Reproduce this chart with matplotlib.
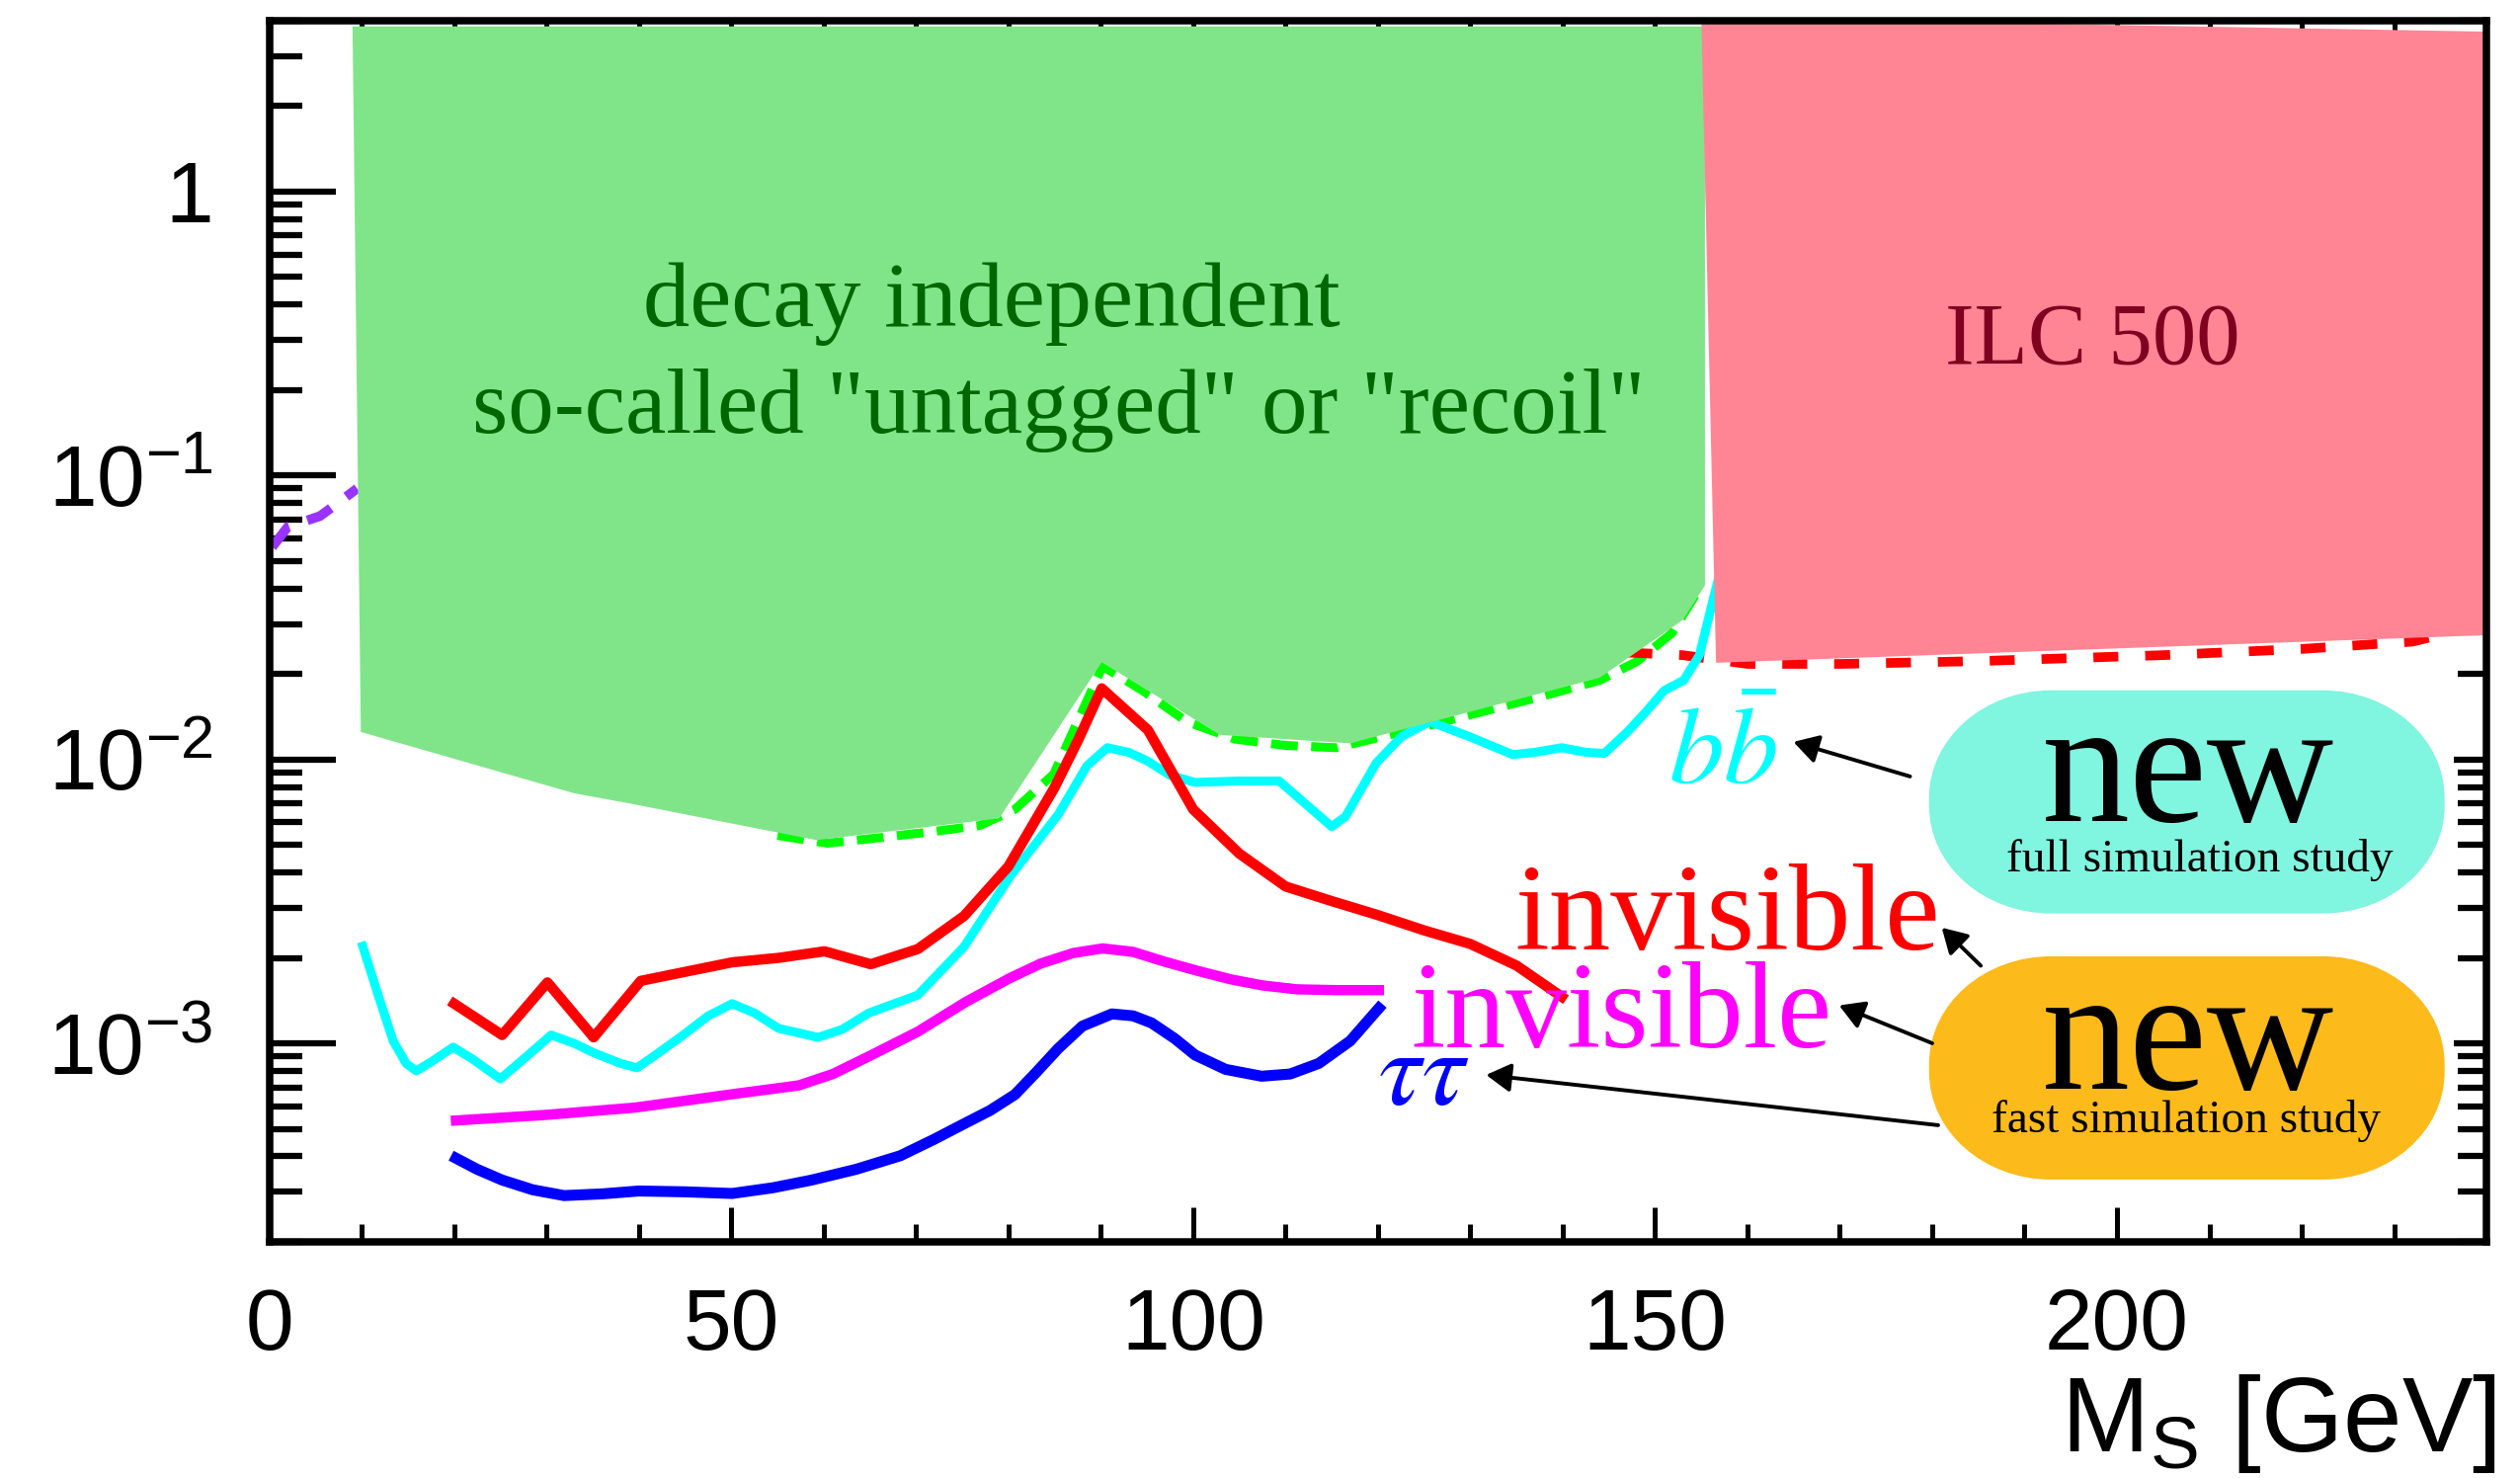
import numpy as np
import matplotlib.pyplot as plt
from matplotlib.path import Path
from matplotlib.patches import PathPatch, Polygon, FancyArrowPatch
from matplotlib.ticker import MultipleLocator, FixedLocator, FixedFormatter

plt.rcParams['font.family'] = ['Liberation Sans', 'DejaVu Sans']
plt.rcParams['mathtext.fontset'] = 'custom'
plt.rcParams['mathtext.rm'] = 'Liberation Sans'
plt.rcParams['mathtext.it'] = 'Liberation Sans:italic'
plt.rcParams['mathtext.bf'] = 'Liberation Sans:bold'

# ---- data ----
# b bbar (full simulation)
bb_x = [10.1, 11.8, 13.4, 14.8, 15.9, 17.5, 19.9, 22, 25, 27.5, 30.5, 33, 35, 38, 39.8,
        42, 44.8, 47.5, 50.1, 52.5, 55.1, 59.4, 62, 64.9, 70.2, 75.2, 80.2, 85.4, 88.5,
        90.7, 93, 95, 97.5, 100.2, 105, 109.3, 115, 116.5, 119.8, 122.5, 125.6, 130,
        134.6, 137, 139.9, 142.5, 144.5, 147, 149, 151, 153.1, 154.8, 156.5, 158]
bb_y = [2.2e-3, 1.47e-3, 1.02e-3, 8.5e-4, 8.0e-4, 8.6e-4, 9.7e-4, 8.8e-4, 7.5e-4, 8.8e-4,
        1.07e-3, 1.0e-3, 9.3e-4, 8.5e-4, 8.2e-4, 9.2e-4, 1.07e-3, 1.25e-3, 1.38e-3, 1.28e-3,
        1.13e-3, 1.05e-3, 1.12e-3, 1.28e-3, 1.48e-3, 2.19e-3, 3.88e-3, 6.4e-3, 9.5e-3,
        1.10e-2, 1.06e-2, 9.9e-3, 8.8e-3, 8.3e-3, 8.4e-3, 8.4e-3, 5.8e-3, 6.3e-3, 9.7e-3,
        1.2e-2, 1.36e-2, 1.2e-2, 1.04e-2, 1.06e-2, 1.10e-2, 1.06e-2, 1.05e-2, 1.25e-2,
        1.47e-2, 1.75e-2, 1.9e-2, 2.33e-2, 3.9e-2, 6e-2]

# invisible (full simulation, red)
inv_full_x = [20, 25.2, 30.1, 35.1, 40.2, 50.1, 55.1, 60.1, 65.1, 70.2, 75.2, 80, 85, 87.6,
              90.1, 95.1, 100, 105, 110, 115, 120, 125, 130, 135, 139.9]
inv_full_y = [1.38e-3, 1.07e-3, 1.64e-3, 1.05e-3, 1.66e-3, 1.93e-3, 2.0e-3, 2.11e-3, 1.9e-3,
              2.15e-3, 2.81e-3, 4.2e-3, 7.97e-3, 1.18e-2, 1.78e-2, 1.27e-2, 6.67e-3, 4.66e-3,
              3.57e-3, 3.17e-3, 2.83e-3, 2.5e-3, 2.24e-3, 1.88e-3, 1.46e-3]

# invisible (fast simulation, magenta)
inv_fast_x = [20.2, 30, 39.6, 50.1, 57.3, 61, 64.9, 70.2, 75.4, 80.2, 83.5, 87, 90.2, 93.5,
              96.9, 100.5, 104.1, 107.5, 111.2, 115.5, 120.1]
inv_fast_y = [5.35e-4, 5.6e-4, 5.94e-4, 6.62e-4, 7.11e-4, 7.8e-4, 9.0e-4, 1.1e-3, 1.40e-3,
              1.7e-3, 1.91e-3, 2.08e-3, 2.16e-3, 2.1e-3, 1.94e-3, 1.8e-3, 1.68e-3, 1.6e-3,
              1.55e-3, 1.54e-3, 1.54e-3]

# tau tau (fast simulation, blue)
tau_x = [20.2, 22.5, 25.2, 28.5, 31.9, 36, 40, 45, 50.1, 54.5, 58.7, 63.5, 68.3, 72, 75.4,
         78, 80.7, 83, 85.4, 88, 91.2, 93.5, 95.5, 98, 100.2, 103.5, 107.4, 110.5, 113.6,
         117, 120.1]
tau_y = [3.94e-4, 3.6e-4, 3.3e-4, 3.05e-4, 2.91e-4, 2.95e-4, 3.02e-4, 3.0e-4, 2.96e-4,
         3.1e-4, 3.3e-4, 3.6e-4, 4.02e-4, 4.6e-4, 5.25e-4, 5.8e-4, 6.6e-4, 7.9e-4, 9.6e-4,
         1.15e-3, 1.27e-3, 1.25e-3, 1.18e-3, 1.04e-3, 9.1e-4, 8.1e-4, 7.66e-4, 7.8e-4,
         8.5e-4, 1.02e-3, 1.33e-3]

# decay independent expected (green dashed)
recoil_x = [55, 60.4, 66, 71.4, 76.9, 80.7, 84.9, 90.2, 94.5, 99.3, 104.5, 110, 115.5,
            125.6, 137.5, 144, 148, 151.8, 155]
recoil_y = [5.4e-3, 5.07e-3, 5.3e-3, 5.55e-3, 5.85e-3, 6.67e-3, 8.88e-3, 2.13e-2, 1.75e-2,
            1.36e-2, 1.18e-2, 1.12e-2, 1.10e-2, 1.32e-2, 1.66e-2, 1.9e-2, 2.21e-2, 2.78e-2,
            4.1e-2]

# ILC 500 (red dashed)
ilc500_x = [147, 153, 160, 170, 185, 205, 220, 232, 237]
ilc500_y = [2.38e-2, 2.33e-2, 2.17e-2, 2.17e-2, 2.22e-2, 2.33e-2, 2.45e-2, 2.6e-2, 2.85e-2]

# LEP (purple dashed)
lep_x = [0.3, 2, 5.5, 9.5]
lep_y = [5.6e-2, 6.6e-2, 7.2e-2, 9.0e-2]

# shaded regions
green_x = [9.0, 9.9, 33, 39, 59.2, 79, 90.1, 102.9, 117, 144, 153, 155.4, 155.4]
green_y = [3.82, 1.25e-2, 7.6e-3, 7.0e-3, 5.2e-3, 6.2e-3, 2.2e-2, 1.22e-2, 1.14e-2,
           1.94e-2, 3.1e-2, 4.1e-2, 3.82]
pink_x = [155.0, 240, 240, 156.6]
pink_y = [4.1, 3.66, 2.74e-2, 2.19e-2]

ytick_vals = [1e-3, 1e-2, 1e-1, 1]
ytick_labels = [r'$10^{-3}$', r'$10^{-2}$', r'$10^{-1}$', '1']

# ---- figure ----
fig = plt.figure(figsize=(25.51, 14.96), dpi=100)
ax = fig.add_axes([0.1069, 0.1598, 0.8798, 0.8262])
ax.set_yscale('log')
ax.set_xlim(0, 240)
ax.set_ylim(2e-4, 4)

# right-hand ticks on a twin drawn underneath
ax2 = ax.twinx()
ax2.set_yscale('log')
ax2.set_ylim(2e-4, 4)
ax2.set_zorder(ax.get_zorder() - 1)
ax.patch.set_visible(False)
for s in ax2.spines.values():
    s.set_visible(False)
ax2.tick_params(axis='y', which='major', direction='in', length=24, width=4.5,
                labelright=False)
ax2.tick_params(axis='y', which='minor', direction='in', length=21, width=4.5,
                labelright=False)

ax.set_axisbelow(True)

ax.plot(lep_x, lep_y, color='#9933FF', lw=7, dashes=(2.8, 2.0), zorder=1)
ax.plot(recoil_x, recoil_y, color='#00FF00', lw=6.5, dashes=(3, 1.5), zorder=1)
ax.plot(ilc500_x, ilc500_y, color='#FF0000', lw=7, dashes=(2.6, 2.8), zorder=1)
ax.plot(bb_x, bb_y, color='#00FFFF', lw=6.5, zorder=1.5, solid_joinstyle='round')

ax.add_patch(Polygon(list(zip(green_x, green_y)), closed=True, facecolor='#80E589',
                     edgecolor='none', zorder=2))
ax.add_patch(Polygon(list(zip(pink_x, pink_y)), closed=True, facecolor='#FF8595',
                     edgecolor='none', zorder=2.5))

ax.plot(inv_full_x, inv_full_y, color='#FF0000', lw=7.5, zorder=3)
ax.plot(inv_fast_x, inv_fast_y, color='#FF00FF', lw=7.5, zorder=3, solid_joinstyle='round')
ax.plot(tau_x, tau_y, color='#0000FF', lw=8, zorder=3, solid_joinstyle='round')

# axes style (ROOT like)
for s in ax.spines.values():
    s.set_linewidth(5.4)
    s.set_zorder(5)
ax.xaxis.set_major_locator(MultipleLocator(50))
ax.xaxis.set_minor_locator(MultipleLocator(10))
ax.yaxis.set_major_locator(FixedLocator(ytick_vals))
ax.yaxis.set_major_formatter(FixedFormatter(ytick_labels))
ax.yaxis.set_minor_formatter(FixedFormatter([]))
ax.tick_params(axis='x', which='both', direction='in', top=True, bottom=True, width=3.6)
ax.tick_params(axis='x', which='major', length=25, pad=33, labelsize=63)
ax.tick_params(axis='x', which='minor', length=13)
ax.tick_params(axis='y', which='both', direction='in', width=4.5)
ax.tick_params(axis='y', which='major', length=48, pad=41, labelsize=63)
ax.tick_params(axis='y', which='minor', length=24)

fig.text(2527 / 2551, 1 - 1468.6 / 1496, r'M$_{\mathregular{S}}$ [GeV]', fontsize=77,
         ha='right', va='baseline')

# region labels
serif = 'Liberation Serif'
ax.text(78.2, 0.337, 'decay independent', family=serif, fontsize=68, color='#006600',
        ha='center', va='baseline', zorder=4)
ax.text(85.4, 0.142, 'so-called "untagged" or "recoil"', family=serif, fontsize=67,
        color='#006600', ha='center', va='baseline', zorder=4)
ax.text(197.4, 0.248, 'ILC 500', family=serif, fontsize=64, color='#800020',
        ha='center', va='baseline', zorder=4)

# curve labels
ax.text(134.8, 2.14e-3, 'invisible', family=serif, fontsize=90, color='#FF0000',
        ha='left', va='baseline', zorder=4)
ax.text(123.6, 9.7e-4, 'invisible', family=serif, fontsize=89, color='#FF00FF',
        ha='left', va='baseline', zorder=4)
ax.text(151.4, 8.2e-3, r'$b\bar{b}$', math_fontfamily='stix', fontsize=80, color='#00FFFF',
        ha='left', va='baseline', zorder=4)
ax.text(120, 6.08e-4, r'$\tau\tau$', math_fontfamily='stix', fontsize=78, color='#0000FF',
        ha='left', va='baseline', zorder=4)


def bubble(x0, y0, x1, y1, rx, ry, color):
    k = 0.5523
    verts = [(x0 + rx, y0), (x1 - rx, y0),
             (x1 - rx + k * rx, y0), (x1, y0 + ry - k * ry), (x1, y0 + ry),
             (x1, y1 - ry),
             (x1, y1 - ry + k * ry), (x1 - rx + k * rx, y1), (x1 - rx, y1),
             (x0 + rx, y1),
             (x0 + rx - k * rx, y1), (x0, y1 - ry + k * ry), (x0, y1 - ry),
             (x0, y0 + ry),
             (x0, y0 + ry - k * ry), (x0 + rx - k * rx, y0), (x0 + rx, y0),
             (x0 + rx, y0)]
    codes = ([Path.MOVETO, Path.LINETO] + [Path.CURVE4] * 3 + [Path.LINETO]
             + [Path.CURVE4] * 3 + [Path.LINETO] + [Path.CURVE4] * 3 + [Path.LINETO]
             + [Path.CURVE4] * 3 + [Path.CLOSEPOLY])
    ax.add_patch(PathPatch(Path(verts, codes), facecolor=color, edgecolor='none',
                           transform=ax.transAxes, zorder=4, clip_on=False))


bubble(0.7486, 0.2689, 0.9811, 0.4516, 0.055, 0.088, '#80F5DF')
bubble(0.7486, 0.0510, 0.9811, 0.2338, 0.055, 0.088, '#FDBA1B')

ax.text(0.8652, 0.3448, 'new', family=serif, fontsize=128, ha='center', va='baseline',
        transform=ax.transAxes, zorder=5)
ax.text(0.8708, 0.3034, 'full simulation study', family=serif, fontsize=34, ha='center',
        va='baseline', transform=ax.transAxes, zorder=5)
ax.text(0.8652, 0.1255, 'new', family=serif, fontsize=128, ha='center', va='baseline',
        transform=ax.transAxes, zorder=5)
ax.text(0.8644, 0.0894, 'fast simulation study', family=serif, fontsize=34, ha='center',
        va='baseline', transform=ax.transAxes, zorder=5)

arrows = [((0.7400, 0.3811), (0.6874, 0.4094)),
          ((0.7719, 0.2261), (0.7543, 0.2573)),
          ((0.7500, 0.1626), (0.7080, 0.1936)),
          ((0.7527, 0.0955), (0.5488, 0.1367))]
for start, end in arrows:
    ax.add_patch(FancyArrowPatch(start, end, transform=ax.transAxes,
                                 arrowstyle='-|>,head_length=0.6,head_width=0.35',
                                 mutation_scale=25, lw=2.8, color='black',
                                 shrinkA=0, shrinkB=0, zorder=5, clip_on=False))

fig.savefig('out.png', dpi=100)
